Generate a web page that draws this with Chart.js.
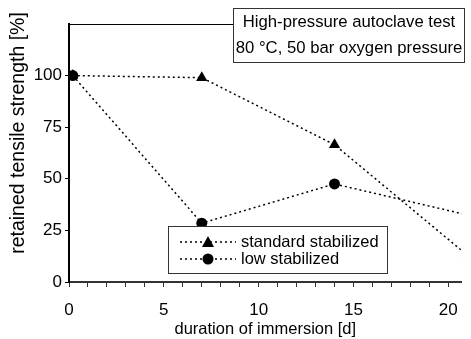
<!DOCTYPE html>
<html>
<head>
<meta charset="utf-8">
<script src="https://cdn.jsdelivr.net/npm/chart.js@4"></script>
<style>
  html, body { margin: 0; padding: 0; background: #fff; }
  #wrap { width: 471px; height: 339px; }
</style>
</head>
<body>
<div id="wrap"><canvas id="chart" width="471" height="339"></canvas></div>
<script>
// ── Data ──────────────────────────────────────────────────────────────────────
const days        = [0.2, 7, 14, 21];
const standardVal = [100, 99, 66.5, 13];
const lowVal      = [100, 28.5, 47.5, 32.5];
const xTickLabels = [0, 5, 10, 15, 20];
const yTickLabels = [0, 25, 50, 75, 100];
const titleLines  = ["High-pressure autoclave test", "80 °C, 50 bar oxygen pressure"];
const seriesNames = ["standard stabilized", "low stabilized"];
const yTitle      = "retained tensile strength [%]";
const xTitle      = "duration of immersion [d]";

const FONT = "'Liberation Sans', Arial, sans-serif";

function pts(vals) {
  return days.map((d, i) => ({ x: d, y: vals[i] }));
}

// ── Boxes and y title drawn on top ────────────────────────────────────────────
const overlay = {
  id: "overlay",
  afterDatasetsDraw(chart) {
    const ctx = chart.ctx;
    const a = chart.chartArea;
    ctx.save();

    // top frame line
    ctx.strokeStyle = "#000";
    ctx.lineWidth = 1;
    ctx.beginPath();
    ctx.moveTo(a.left, a.top + 0.5);
    ctx.lineTo(a.right, a.top + 0.5);
    ctx.stroke();

    // y axis title (sits above centre in the original)
    ctx.save();
    ctx.translate(19, 133);
    ctx.rotate(-Math.PI / 2);
    ctx.fillStyle = "#000";
    ctx.font = "19.5px " + FONT;
    ctx.textAlign = "center";
    ctx.textBaseline = "middle";
    ctx.fillText(yTitle, 0, 0);
    ctx.restore();

    // title box
    ctx.fillStyle = "#fff";
    ctx.fillRect(233, 8, 231, 54);
    ctx.strokeStyle = "#333";
    ctx.strokeRect(233.5, 8.5, 231, 54);
    ctx.fillStyle = "#000";
    ctx.font = "16.7px " + FONT;
    ctx.textAlign = "center";
    ctx.textBaseline = "middle";
    ctx.fillText(titleLines[0], 349, 22);
    ctx.fillText(titleLines[1], 349, 48);

    // legend box
    ctx.fillStyle = "#fff";
    ctx.fillRect(168, 226, 219, 47);
    ctx.strokeStyle = "#333";
    ctx.strokeRect(168.5, 226.5, 219, 47);
    const rows = [242, 259];
    rows.forEach((y, i) => {
      ctx.strokeStyle = "#000";
      ctx.lineWidth = 1.5;
      ctx.setLineDash([2, 3]);
      ctx.beginPath();
      ctx.moveTo(180, y);
      ctx.lineTo(236, y);
      ctx.stroke();
      ctx.setLineDash([]);
      ctx.fillStyle = "#000";
      ctx.beginPath();
      if (i === 0) {
        ctx.moveTo(208, y - 6);
        ctx.lineTo(214, y + 5);
        ctx.lineTo(202, y + 5);
        ctx.closePath();
      } else {
        ctx.arc(208, y, 5.5, 0, Math.PI * 2);
      }
      ctx.fill();
      ctx.font = "16.5px " + FONT;
      ctx.textAlign = "left";
      ctx.textBaseline = "middle";
      ctx.fillText(seriesNames[i], 241, y);
    });
    ctx.restore();
  }
};

// ── Chart ─────────────────────────────────────────────────────────────────────
new Chart(document.getElementById("chart"), {
  type: "line",
  data: {
    datasets: [
      {
        label: seriesNames[0],
        data: pts(standardVal),
        borderColor: "#000",
        backgroundColor: "#000",
        borderWidth: 1.5,
        borderDash: [2, 3],
        pointStyle: "triangle",
        pointRadius: 6.5,
        pointBorderWidth: 0,
        fill: false,
        tension: 0
      },
      {
        label: seriesNames[1],
        data: pts(lowVal),
        borderColor: "#000",
        backgroundColor: "#000",
        borderWidth: 1.5,
        borderDash: [2, 3],
        pointStyle: "circle",
        pointRadius: 5.5,
        pointBorderWidth: 0,
        fill: false,
        tension: 0
      }
    ]
  },
  options: {
    responsive: false,
    animation: false,
    layout: { padding: { top: 24, right: 0, left: 0, bottom: 0 } },
    plugins: {
      legend: { display: false },
      tooltip: { enabled: false }
    },
    scales: {
      x: {
        type: "linear",
        min: 0,
        max: 20.7,
        afterFit: s => { s.height = 57; },
        afterBuildTicks: s => {
          s.ticks = [];
          for (let v = 0; v <= 20; v++) s.ticks.push({ value: v });
        },
        border: { color: "#333", width: 2 },
        grid: { drawOnChartArea: false, drawTicks: true, tickLength: 5, color: "#333", lineWidth: 1 },
        ticks: {
          color: "#000",
          font: { size: 17, family: FONT },
          padding: 13,
          maxRotation: 0,
          autoSkip: false,
          callback: v => xTickLabels.includes(v) ? String(v) : ""
        },
        title: {
          display: true,
          text: xTitle,
          color: "#000",
          font: { size: 16.5, family: FONT },
          padding: { top: 0, bottom: 0 }
        }
      },
      y: {
        min: 0,
        max: 125,
        afterFit: s => { s.width = 69; },
        afterBuildTicks: s => {
          s.ticks = yTickLabels.map(v => ({ value: v }));
        },
        border: { color: "#000", width: 2 },
        grid: { drawOnChartArea: false, drawTicks: true, tickLength: 4, color: "#000", lineWidth: 1 },
        ticks: {
          color: "#000",
          font: { size: 17, family: FONT },
          padding: 3
        },
        title: { display: false }
      }
    }
  },
  plugins: [overlay]
});
</script>
</body>
</html>
